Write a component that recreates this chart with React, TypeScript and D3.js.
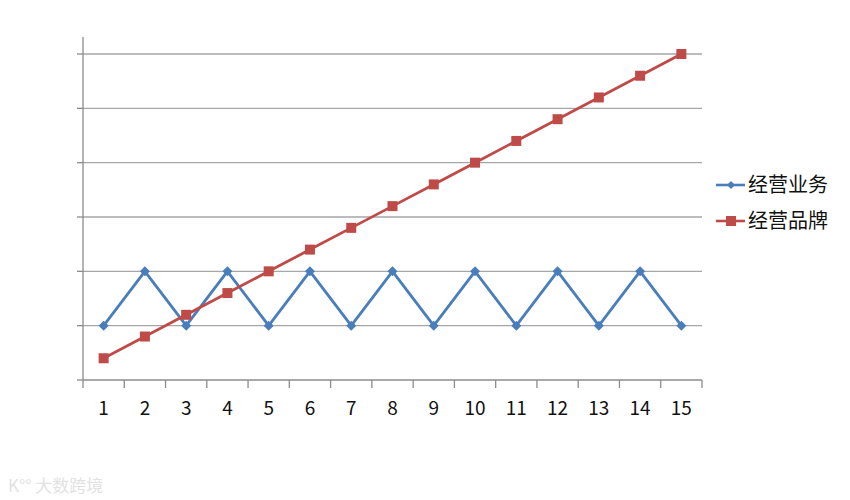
import React from "react";
import * as d3 from "d3";

const categories = ["1","2","3","4","5","6","7","8","9","10","11","12","13","14","15"];
const businessValues = [1,2,1,2,1,2,1,2,1,2,1,2,1,2,1];
const brandValues = [0.4,0.8,1.2,1.6,2.0,2.4,2.8,3.2,3.6,4.0,4.4,4.8,5.2,5.6,6.0];
const yTicks = [0,1,2,3,4,5,6];
const seriesNames = ["经营业务","经营品牌"];
const seriesColors = ["#4A7EBB","#BE4B48"];

export default function App() {
  const W = 850, H = 500;
  const left = 83, right = 702, top = 54, bottom = 380;
  const x = d3.scaleBand<string>().domain(categories).range([left, right]).paddingInner(0).paddingOuter(0);
  const y = d3.scaleLinear().domain([0, 6]).range([bottom, top]);
  const cx = (c: string) => (x(c) as number) + x.bandwidth() / 2;
  const line = d3.line<number>().x((_, i) => cx(categories[i])).y(d => y(d));
  const font = "'Noto Sans CJK SC', 'Open Sans', 'Liberation Sans', sans-serif";
  const tickEdges = categories.map(c => x(c) as number).concat([right]);
  const diamond = (px: number, py: number, r: number) =>
    `M${px},${py - r}L${px + r},${py}L${px},${py + r}L${px - r},${py}Z`;

  return (
    <svg width={W} height={H} style={{ position: "absolute", left: 0, top: 0, background: "#fff" }}>
      {yTicks.slice(1).map(t => (
        <line key={"g" + t} x1={left} x2={right} y1={y(t)} y2={y(t)} stroke="#A6A6A6" strokeWidth={1.3} />
      ))}
      {yTicks.map(t => (
        <line key={"yt" + t} x1={left - 6} x2={left} y1={y(t)} y2={y(t)} stroke="#8C8C8C" strokeWidth={1.3} />
      ))}
      <line x1={left} x2={left} y1={37} y2={bottom} stroke="#8C8C8C" strokeWidth={1.3} />
      <line x1={left} x2={right} y1={bottom} y2={bottom} stroke="#8C8C8C" strokeWidth={1.3} />
      {tickEdges.map((e, i) => (
        <line key={"xt" + i} x1={e} x2={e} y1={bottom} y2={bottom + 8} stroke="#8C8C8C" strokeWidth={1.3} />
      ))}
      {categories.map(c => (
        <text key={"xl" + c} x={cx(c)} y={415} textAnchor="middle" fontSize={19} fontFamily={font} fill="#111">{c}</text>
      ))}
      <path d={line(businessValues) || ""} fill="none" stroke={seriesColors[0]} strokeWidth={2.8} strokeLinejoin="round" />
      {businessValues.map((v, i) => (
        <path key={"bm" + i} d={diamond(cx(categories[i]), y(v), 5)} fill={seriesColors[0]} />
      ))}
      <path d={line(brandValues) || ""} fill="none" stroke={seriesColors[1]} strokeWidth={2.8} strokeLinejoin="round" />
      {brandValues.map((v, i) => (
        <rect key={"rm" + i} x={cx(categories[i]) - 5} y={y(v) - 5} width={10} height={10} fill={seriesColors[1]} />
      ))}
      <line x1={716} x2={745} y1={185} y2={185} stroke={seriesColors[0]} strokeWidth={2.6} />
      <path d={diamond(731, 185, 4)} fill={seriesColors[0]} />
      <text x={748} y={192} fontSize={20} fontFamily={font} fill="#111">{seriesNames[0]}</text>
      <line x1={716} x2={745} y1={221} y2={221} stroke={seriesColors[1]} strokeWidth={2.6} />
      <rect x={726} y={216} width={10} height={10} fill={seriesColors[1]} />
      <text x={748} y={228} fontSize={20} fontFamily={font} fill="#111">{seriesNames[1]}</text>
      <text x={8} y={492} fontSize={17} fontFamily={font} fill="#E2E2E2">K°° 大数跨境</text>
    </svg>
  );
}
